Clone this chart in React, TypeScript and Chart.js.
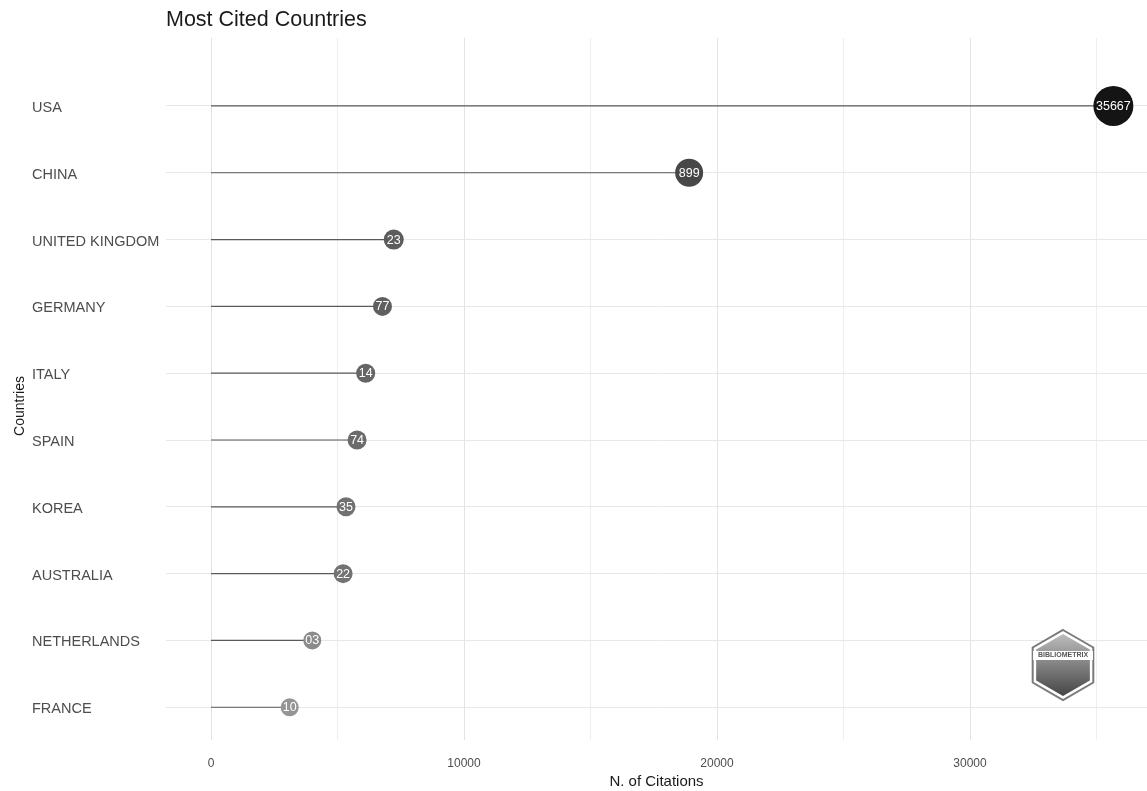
import React, { useEffect, useRef } from 'react';
import { Chart, registerables } from 'chart.js';

Chart.register(...registerables);

// ---- data ----
const countries = ['USA', 'CHINA', 'UNITED KINGDOM', 'GERMANY', 'ITALY', 'SPAIN', 'KOREA', 'AUSTRALIA', 'NETHERLANDS', 'FRANCE'];
const citations = [35667, 18899, 7223, 6777, 6114, 5774, 5335, 5222, 4003, 3110];
const pointLabels = ['35667', '899', '23', '77', '14', '74', '35', '22', '03', '10'];
const xTickValues = [0, 5000, 10000, 15000, 20000, 25000, 30000, 35000];
const xTickLabels = ['0', '', '10000', '', '20000', '', '30000', ''];

// ---- styles ----
const pointColors = ['#141414', '#474747', '#5c5c5c', '#5f5f5f', '#666666', '#6b6b6b', '#717171', '#737373', '#8a8a8a', '#959595'];
const pointRadii = [20, 14, 10, 9.5, 9.5, 9.5, 9.5, 9.5, 9, 9];
const FONT = "'Liberation Sans', Arial, Helvetica, sans-serif";

const extrasPlugin = {
  id: 'extras',
  afterDatasetsDraw(chart: any) {
    const ctx = chart.ctx;
    const meta = chart.getDatasetMeta(0);
    ctx.save();
    ctx.fillStyle = '#ffffff';
    ctx.font = `12.5px ${FONT}`;
    ctx.textAlign = 'center';
    ctx.textBaseline = 'middle';
    meta.data.forEach((el: any, i: number) => {
      ctx.fillText(pointLabels[i], el.x, el.y + 0.5);
    });
    ctx.restore();
  },
  afterDraw(chart: any) {
    const ctx = chart.ctx;
    // y axis title
    ctx.save();
    ctx.translate(20, 406);
    ctx.rotate(-Math.PI / 2);
    ctx.fillStyle = '#1a1a1a';
    ctx.font = `14px ${FONT}`;
    ctx.textAlign = 'center';
    ctx.textBaseline = 'middle';
    ctx.fillText('Countries', 0, 0);
    ctx.restore();

    // logo
    const cx = 1063, cy = 665;
    const hex = (r: number) => {
      ctx.beginPath();
      for (let k = 0; k < 6; k++) {
        const a = (-90 + 60 * k) * Math.PI / 180;
        const px = cx + r * Math.cos(a), py = cy + r * Math.sin(a);
        if (k === 0) ctx.moveTo(px, py); else ctx.lineTo(px, py);
      }
      ctx.closePath();
    };
    ctx.save();
    hex(35);
    ctx.fillStyle = '#ffffff';
    ctx.fill();
    ctx.strokeStyle = '#7a7a7a';
    ctx.lineWidth = 2;
    ctx.stroke();
    hex(31);
    const g = ctx.createLinearGradient(0, cy - 31, 0, cy + 31);
    g.addColorStop(0, '#bdbdbd');
    g.addColorStop(1, '#454545');
    ctx.fillStyle = g;
    ctx.fill();
    ctx.fillStyle = '#ffffff';
    ctx.fillRect(cx - 30, cy - 14, 60, 9);
    ctx.fillStyle = '#555555';
    ctx.font = `bold 7px ${FONT}`;
    ctx.textAlign = 'center';
    ctx.textBaseline = 'middle';
    ctx.fillText('BIBLIOMETRIX', cx, cy - 9.5);
    ctx.restore();
  },
};

export default function App() {
  const ref = useRef<HTMLCanvasElement | null>(null);

  useEffect(() => {
    if (!ref.current) return;
    const pointData = countries.map((_, i) => ({ x: citations[i], y: i }));
    const lineSets = countries.map((_, i) => ({
      type: 'scatter' as const,
      data: [{ x: 0, y: i }, { x: citations[i], y: i }],
      showLine: true,
      borderColor: '#5a5a5a',
      borderWidth: 1.2,
      pointRadius: 0,
      order: 1,
    }));
    const chart = new Chart(ref.current, {
      type: 'scatter',
      data: {
        datasets: [
          {
            data: pointData,
            pointRadius: pointRadii,
            pointHoverRadius: pointRadii,
            backgroundColor: pointColors,
            pointBackgroundColor: pointColors,
            borderWidth: 0,
            pointBorderWidth: 0,
            order: 0,
            clip: false,
          } as any,
          ...lineSets,
        ],
      },
      options: {
        animation: false,
        responsive: false,
        events: [],
        layout: { autoPadding: false, padding: { left: 32, right: 0, top: 0, bottom: 0 } },
        plugins: {
          legend: { display: false },
          tooltip: { enabled: false },
          title: {
            display: true,
            text: 'Most Cited Countries',
            align: 'start',
            fullSize: false,
            color: '#1a1a1a',
            font: { family: FONT, size: 21.5, weight: 'normal' as any },
            padding: { top: 7, bottom: 5 },
          },
        },
        scales: {
          x: {
            type: 'linear',
            min: -1779,
            max: 36996,
            afterBuildTicks: (s: any) => {
              s.ticks = xTickValues.map((v) => ({ value: v }));
            },
            afterFit: (s: any) => {
              s.height = 51;
            },
            ticks: {
              callback: (_v: any, idx: number) => xTickLabels[idx],
              color: '#4d4d4d',
              font: { family: FONT, size: 12 },
              padding: 16,
              maxRotation: 0,
              autoSkip: false,
            },
            grid: {
              color: (c: any) => (c.tick && c.tick.value % 10000 === 0 ? '#e3e3e3' : '#eeeeee'),
              drawTicks: false,
              lineWidth: 1,
            },
            border: { display: false },
            title: {
              display: true,
              text: 'N. of Citations',
              color: '#1a1a1a',
              font: { family: FONT, size: 15 },
              padding: { top: 2, bottom: 0 },
            },
          },
          y: {
            type: 'linear',
            reverse: true,
            min: -1.02,
            max: 9.49,
            afterBuildTicks: (s: any) => {
              s.ticks = countries.map((_, i) => ({ value: i }));
            },
            afterFit: (s: any) => {
              s.width = 134;
            },
            ticks: {
              callback: (_v: any, idx: number) => countries[idx],
              crossAlign: 'far',
              color: '#4d4d4d',
              font: { family: FONT, size: 14.5 },
              autoSkip: false,
              labelOffset: 2,
            },
            grid: { color: '#e8e8e8', drawTicks: false, lineWidth: 1 },
            border: { display: false },
          },
        },
      },
      plugins: [extrasPlugin],
    });
    return () => chart.destroy();
  }, []);

  return (
    <div style={{ position: 'absolute', left: 0, top: 0, width: 1147, height: 791, background: '#ffffff' }}>
      <canvas ref={ref} width={1147} height={791} style={{ display: 'block', width: 1147, height: 791 }} />
    </div>
  );
}
